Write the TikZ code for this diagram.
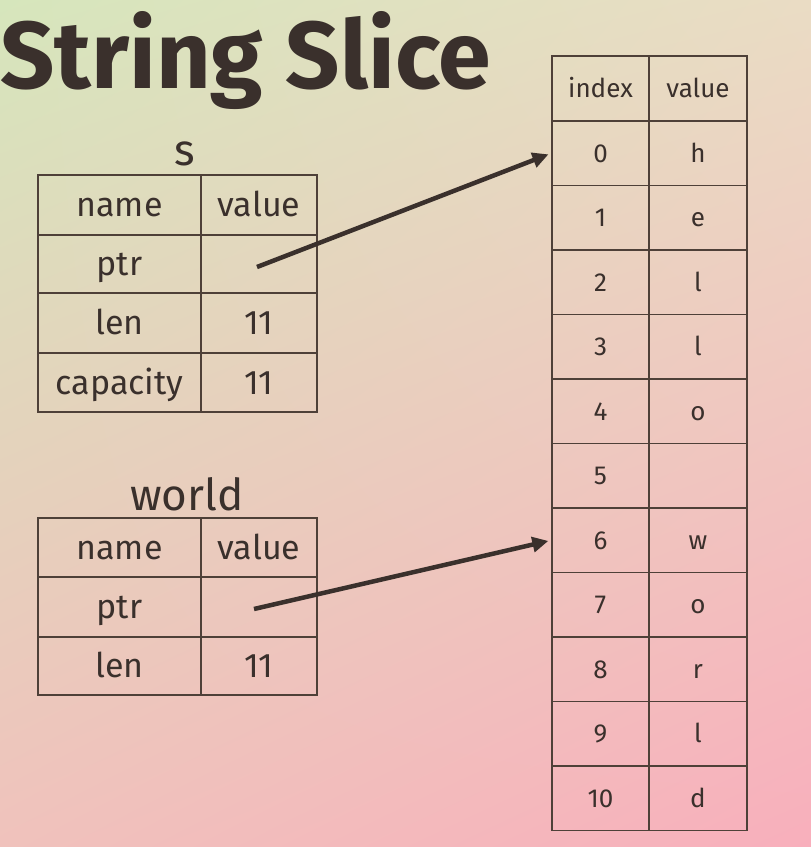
\documentclass[tikz,border=0pt]{standalone}
\usepackage{fontspec}
\setmainfont{Fira Sans}
\usetikzlibrary{arrows.meta,shadings}
\definecolor{ink}{HTML}{3A302C}
\definecolor{rule}{HTML}{4E4038}
\definecolor{bgTL}{HTML}{D6E6BC}
\definecolor{bgTR}{HTML}{EADCC4}
\definecolor{bgBL}{HTML}{F0C2BC}
\definecolor{bgBR}{HTML}{F8AFBC}
\tikzset{
  cell/.style={draw=rule, line width=1.4pt, inner sep=0pt, text=ink, anchor=center, text depth=0pt},
  bigcell/.style={cell, font=\fontsize{34}{34}\selectfont, text height=23.5pt},
  smallcell/.style={cell, font=\fontsize{26}{26}\selectfont, text height=18pt},
  tlabel/.style={text=ink, font=\fontsize{44}{44}\selectfont, inner sep=0pt, anchor=base},
  ptrarrow/.style={draw=ink, line width=4.5pt, -{Triangle[length=16pt,width=15pt]}, shorten >=3pt}
}
\begin{document}
\begin{tikzpicture}[x=1pt,y=-1pt]
\shade[upper left=bgTL, upper right=bgTR, lower left=bgBL, lower right=bgBR] (0,0) rectangle (811,847);
\useasboundingbox (0,0) rectangle (811,847);
% title
\node[anchor=base west, inner sep=0pt, text=ink, font=\fontsize{95}{95}\selectfont\bfseries] (title) at (0,88) {String Slice};
% table s
\node[tlabel] (slabel) at (185,165) {s};
\node[bigcell, minimum width=163pt, minimum height=60pt] (sh1) at (119.5,205) {name};
\node[bigcell, minimum width=116pt, minimum height=60pt] (sh2) at (259,205) {value};
\node[bigcell, minimum width=163pt, minimum height=58pt] (sn1) at (119.5,264) {ptr};
\node[bigcell, minimum width=116pt, minimum height=58pt] (sv1) at (259,264) {};
\node[bigcell, minimum width=163pt, minimum height=60pt] (sn2) at (119.5,323) {len};
\node[bigcell, minimum width=116pt, minimum height=60pt] (sv2) at (259,323) {11};
\node[bigcell, minimum width=163pt, minimum height=59pt] (sn3) at (119.5,382.5) {capacity};
\node[bigcell, minimum width=116pt, minimum height=59pt] (sv3) at (259,382.5) {11};
% table world
\node[tlabel] (wlabel) at (187,510) {world};
\node[bigcell, minimum width=163pt, minimum height=59pt] (wh1) at (119.5,547.5) {name};
\node[bigcell, minimum width=116pt, minimum height=59pt] (wh2) at (259,547.5) {value};
\node[bigcell, minimum width=163pt, minimum height=60pt] (wn1) at (119.5,607) {ptr};
\node[bigcell, minimum width=116pt, minimum height=60pt] (wv1) at (259,607) {};
\node[bigcell, minimum width=163pt, minimum height=58pt] (wn2) at (119.5,666) {len};
\node[bigcell, minimum width=116pt, minimum height=58pt] (wv2) at (259,666) {11};
% heap table
\node[smallcell, minimum width=97pt, minimum height=65pt] (hidx) at (600.5,88.5) {index};
\node[smallcell, minimum width=98pt, minimum height=65pt] (hval) at (698,88.5) {value};
\foreach \i/\c in {0/h,1/e,2/l,3/l,4/o,5/{},6/w,7/o,8/r,9/l,10/d}{
  \node[smallcell, minimum width=97pt, minimum height=64.5pt] (i\i) at (600.5,{121+64.5*(\i+0.5)}) {\i};
  \node[smallcell, minimum width=98pt, minimum height=64.5pt] (v\i) at (698,{121+64.5*(\i+0.5)}) {\c};
}
% pointers
\coordinate (sp) at (257,267);
\coordinate (wp) at (254,609);
\draw[ptrarrow] (sp) -- (i0.west);
\draw[ptrarrow] (wp) -- (i6.west);
\end{tikzpicture}
\end{document}
